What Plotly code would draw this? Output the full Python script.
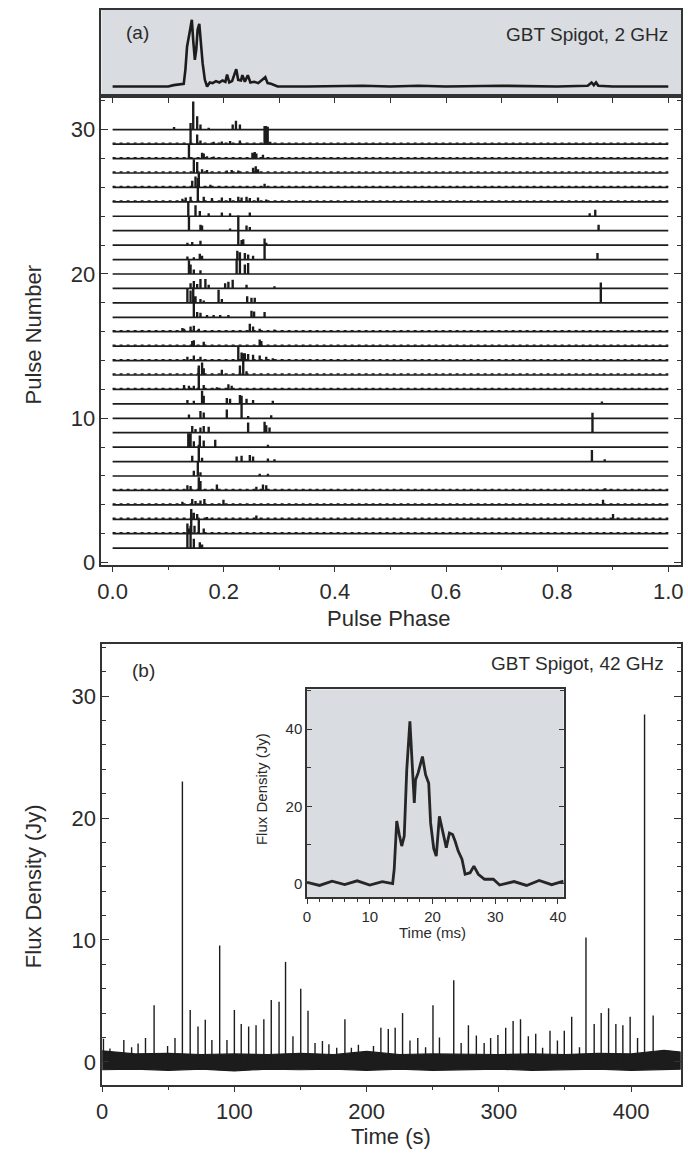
import plotly.graph_objects as go

# ---------------- data: panel (a) integrated profile ----------------
PROFILE_PHASE = [0.0, 0.10, 0.11, 0.125, 0.128, 0.131, 0.134, 0.1395, 0.1426, 0.145, 0.148,
                 0.1505, 0.153, 0.156, 0.159, 0.162, 0.166, 0.170, 0.175, 0.18, 0.186, 0.192,
                 0.198, 0.203, 0.206, 0.21, 0.215, 0.2225, 0.226, 0.231, 0.2335, 0.238,
                 0.2433, 0.248, 0.255, 0.262, 0.2748, 0.279, 0.285, 0.29, 0.297, 0.35, 0.45,
                 0.5, 0.55, 0.6, 0.7, 0.8, 0.855, 0.862, 0.866, 0.870, 0.874, 0.9, 1.0]
PROFILE_VALUE = [0.0, 0.0, 0.02, 0.03, 0.04, 0.25, 0.6, 0.85, 1.0, 0.7, 0.4,
                 0.55, 0.85, 0.94, 0.6, 0.35, 0.1, 0.0, 0.06, 0.05, 0.08, 0.06,
                 0.09, 0.07, 0.18, 0.06, 0.08, 0.26, 0.1, 0.09, 0.17, 0.07,
                 0.17, 0.06, 0.07, 0.05, 0.14, 0.05, 0.04, 0.02, 0.0, 0.0, 0.01,
                 0.0, 0.01, 0.0, 0.01, 0.0, 0.01, 0.06, 0.02, 0.06, 0.01, 0.0, 0.0]

# ---------------- data: panel (a) single pulses ----------------
PULSE_NUMBERS = [30, 29, 28, 27, 26, 25, 24, 23, 22, 21, 20, 19, 18, 17, 16,
                 15, 14, 13, 12, 11, 10, 9, 8, 7, 6, 5, 4, 3, 2, 1]
PULSE_SPIKE_PHASES = [
    [0.110, 0.1397, 0.1445, 0.1516, 0.1575, 0.1723, 0.2155, 0.2214, 0.2285, 0.4476],
    [0.1397, 0.1516, 0.1575, 0.1812, 0.196, 0.2108, 0.2285, 0.2729, 0.2755, 0.2785, 0.283],
    [0.1368, 0.1604, 0.1634, 0.1693, 0.1812, 0.251, 0.2552, 0.2581, 0.27],
    [0.1456, 0.1516, 0.1604, 0.1693, 0.2049, 0.2137, 0.2256, 0.2522, 0.257, 0.2611],
    [0.1427, 0.1486, 0.1545, 0.1753, 0.2729],
    [0.125, 0.131, 0.1397, 0.1528, 0.1634, 0.1782, 0.196, 0.2108, 0.2256, 0.2315, 0.2404, 0.2463, 0.2611, 0.2759],
    [0.1356, 0.1486, 0.1563, 0.1723, 0.196, 0.2108, 0.2463, 0.858, 0.868],
    [0.1368, 0.1575, 0.1604, 0.2108, 0.2404, 0.2463, 0.2937, 0.874],
    [0.134, 0.1427, 0.1575, 0.2256, 0.2315, 0.2345, 0.2759],
    [0.134, 0.1456, 0.1563, 0.1604, 0.2238, 0.2285, 0.2374, 0.2433, 0.2522, 0.2729, 0.872],
    [0.1368, 0.1397, 0.1456, 0.1575, 0.2226, 0.2285, 0.2374, 0.2433],
    [0.1397, 0.1456, 0.1516, 0.1575, 0.1664, 0.1723, 0.2019, 0.2078, 0.2155, 0.2404, 0.2907],
    [0.134, 0.1397, 0.1445, 0.1486, 0.1575, 0.1634, 0.1901, 0.196, 0.2416, 0.2493, 0.2552, 0.878],
    [0.1456, 0.1516, 0.1575, 0.1693, 0.1812, 0.193, 0.2078, 0.2493, 0.254, 0.2729],
    [0.125, 0.128, 0.1397, 0.1456, 0.1545, 0.2463, 0.2522, 0.2641, 0.2907],
    [0.1427, 0.1456, 0.1634, 0.2641, 0.267],
    [0.134, 0.1456, 0.1575, 0.2256, 0.2315, 0.2374, 0.2433, 0.2522, 0.2641, 0.2759, 0.2877],
    [0.1545, 0.1604, 0.1634, 0.196, 0.2285, 0.2345, 0.2404],
    [0.128, 0.1368, 0.1456, 0.1545, 0.1634, 0.1871, 0.2078, 0.2137],
    [0.134, 0.1456, 0.1604, 0.1634, 0.2049, 0.2108, 0.2285, 0.2404, 0.2522, 0.2877, 0.880],
    [0.1368, 0.1575, 0.1634, 0.2049, 0.2315, 0.2433, 0.2848],
    [0.1427, 0.1486, 0.1575, 0.1634, 0.1723, 0.2433, 0.2729, 0.2759, 0.2818, 0.863],
    [0.1356, 0.1397, 0.1456, 0.1563, 0.1634, 0.1841, 0.2789],
    [0.1427, 0.1545, 0.1604, 0.2226, 0.2315, 0.2463, 0.2522, 0.2789, 0.2907, 0.862, 0.885],
    [0.1456, 0.1528, 0.1575, 0.1901, 0.2226, 0.2641, 0.2789],
    [0.134, 0.1397, 0.1545, 0.1575, 0.1871, 0.2581, 0.27, 0.2759, 0.3055, 0.886],
    [0.125, 0.1427, 0.1486, 0.1575, 0.1646, 0.1989, 0.2759, 0.2996, 0.418, 0.882],
    [0.1409, 0.1456, 0.1516, 0.1693, 0.2581, 0.900],
    [0.1368, 0.1409, 0.1468, 0.1545, 0.1634],
    [0.134, 0.1397, 0.1456, 0.1563, 0.1604, 0.2729, 0.3766],
]
PULSE_SPIKE_HEIGHTS = [
    [0.12, 0.4, 1.9, 0.87, 0.3, 0.08, 0.3, 0.57, 0.3, 0.04],
    [1.0, 0.6, 0.2, 0.1, 0.12, 0.15, 0.2, 1.2, 1.2, 1.15, 0.1],
    [0.95, 0.35, 0.3, 0.1, 0.08, 0.35, 0.4, 0.3, 0.2],
    [0.9, 0.7, 0.2, 0.15, 0.12, 0.15, 0.12, 0.3, 0.4, 0.2],
    [0.4, 0.7, 0.95, 0.12, 0.2],
    [0.15, 0.25, 0.3, 1.6, 0.3, 0.2, 0.25, 0.2, 0.3, 0.25, 0.3, 0.2, 0.25, 0.1],
    [1.0, 0.7, 0.3, 0.15, 0.2, 0.15, 0.2, 0.15, 0.4],
    [0.95, 0.35, 0.3, 0.1, 0.3, 0.2, 0.05, 0.35],
    [0.1, 0.15, 0.25, 2.0, 0.3, 0.35, 0.1],
    [0.15, 0.1, 0.35, 0.2, 0.55, 0.45, 0.4, 0.3, 0.2, 1.4, 0.4],
    [0.9, 0.6, 0.25, 0.2, 1.0, 1.0, 0.6, 0.7],
    [0.3, 0.45, 0.25, 0.6, 0.6, 0.2, 0.3, 0.4, 0.55, 0.2, 0.1],
    [0.9, 0.8, 1.0, 0.4, 0.2, 0.1, 0.85, 0.2, 0.4, 0.3, 0.3, 1.35],
    [1.1, 0.3, 0.25, 0.1, 0.1, 0.1, 0.1, 0.4, 0.35, 0.3],
    [0.2, 0.15, 0.3, 0.35, 0.15, 0.5, 0.3, 0.15, 0.1],
    [0.3, 0.35, 0.25, 0.4, 0.3],
    [0.2, 0.3, 0.2, 0.9, 0.5, 0.45, 0.4, 0.35, 0.3, 0.2, 0.1],
    [0.6, 0.8, 0.4, 0.3, 0.6, 1.45, 0.2],
    [0.25, 0.2, 0.2, 1.4, 0.25, 0.1, 0.3, 0.2],
    [0.2, 0.15, 0.85, 0.5, 0.35, 0.3, 0.55, 0.3, 0.2, 0.15, 0.1],
    [0.2, 0.45, 0.35, 0.55, 1.5, 0.1, 0.15],
    [0.4, 0.2, 0.3, 0.4, 0.35, 0.65, 0.7, 0.45, 0.3, 1.33],
    [0.9, 0.9, 0.35, 0.75, 0.4, 0.45, 0.1],
    [0.35, 1.1, 0.2, 0.3, 0.35, 0.4, 0.3, 0.15, 0.1, 0.75, 0.1],
    [0.3, 0.95, 0.2, 0.05, 0.05, 0.1, 0.1],
    [0.3, 0.25, 0.85, 0.6, 0.35, 0.2, 0.35, 0.3, 0.05, 0.1],
    [0.15, 0.35, 0.2, 0.25, 0.35, 0.3, 0.05, 0.05, 0.05, 0.3],
    [0.4, 0.4, 0.3, 0.1, 0.2, 0.3],
    [0.3, 1.65, 0.5, 0.9, 0.3],
    [1.65, 1.5, 0.6, 0.35, 0.2, 0.05, 0.03],
]
# pulses whose off-pulse baseline shows visible noise
NOISY_PULSES = [29, 28, 27, 26, 25, 16, 15, 14, 13, 12, 5, 4, 3, 2]

# ---------------- data: panel (b) 42 GHz time series ----------------
SPIKE_TIME = [1.0, 5.9, 16.4, 22.3, 27.2, 32.8, 39.3, 49.5, 55.1, 60.7, 66.6, 72.5, 78.0,
              83.0, 88.9, 94.4, 100.0, 105.2, 110.8, 116.4, 122.3, 127.9, 133.8, 138.7,
              144.3, 150.2, 155.7, 161.0, 166.6, 171.5, 177.4, 183.6, 188.5, 193.8, 205.2,
              210.8, 216.4, 221.6, 227.2, 232.8, 238.7, 244.6, 250.2, 255.1, 265.9, 271.5,
              277.0, 283.0, 288.9, 293.8, 299.3, 305.2, 310.8, 316.4, 322.3, 327.9, 333.1,
              338.7, 344.3, 349.5, 355.1, 361.0, 365.9, 372.1, 377.4, 383.0, 388.5, 393.8,
              399.3, 404.9, 410.2, 416.7]
SPIKE_FLUX = [1.9, 1.1, 1.8, 1.2, 1.5, 1.95, 4.65, 1.3, 1.95, 23.0, 4.25, 2.9, 3.45,
              1.8, 9.55, 1.8, 4.25, 3.1, 2.9, 3.0, 3.5, 5.07, 4.93, 8.2,
              2.1, 6.0, 4.2, 1.55, 1.7, 1.45, 1.15, 3.5, 1.15, 1.4, 1.3,
              2.8, 2.7, 2.8, 4.0, 1.75, 1.95, 1.2, 4.65, 2.0, 6.7, 1.55,
              3.0, 2.15, 1.55, 1.95, 2.2, 2.8, 3.35, 3.5, 2.1, 2.3, 1.15,
              2.55, 1.75, 2.55, 3.7, 1.2, 10.2, 3.1, 4.0, 4.4, 3.1, 3.0,
              3.7, 1.95, 28.5, 3.8]
NOISE_TIME = [0, 25, 50, 75, 100, 125, 150, 175, 200, 225, 250, 275, 300, 325, 350,
              375, 400, 425, 437.5]
NOISE_HIGH = [0.9, 0.65, 0.7, 0.6, 0.65, 0.6, 0.7, 0.6, 0.85, 0.6, 0.65, 0.6, 0.6,
              0.65, 0.6, 0.7, 0.65, 0.95, 0.8]
NOISE_LOW = [-0.65, -0.6, -0.7, -0.6, -0.75, -0.6, -0.65, -0.6, -0.7, -0.6, -0.7,
             -0.65, -0.6, -0.7, -0.65, -0.6, -0.7, -0.65, -0.6]

# ---------------- data: inset, single 42 GHz pulse ----------------
INSET_TIME_MS = [0.0, 2.0, 4.0, 6.0, 8.0, 10.0, 12.0, 13.65, 13.9, 14.3, 14.7, 15.1, 15.5,
                 15.9, 16.4, 16.7, 17.1, 17.3, 17.7, 18.4, 18.9, 19.4, 19.7, 20.2, 20.6,
                 21.1, 21.6, 22.2, 22.7, 23.2, 23.6, 24.1, 24.7, 25.2, 26.0, 26.6, 27.3,
                 28.3, 29.7, 30.7, 33.0, 35.0, 37.0, 39.0, 40.9]
INSET_FLUX_JY = [0.3, -0.5, 0.6, -0.3, 0.7, -0.4, 0.5, 0.0, 3.7, 16.2, 12.7, 9.7, 12.3,
                 29.5, 42.0, 32.0, 20.9, 26.9, 28.6, 32.9, 28.2, 26.0, 15.7, 9.0, 7.1,
                 17.4, 13.9, 9.3, 13.1, 12.7, 11.0, 8.4, 6.3, 2.4, 2.8, 4.5, 2.4,
                 1.1, 1.1, -0.4, 0.5, -0.5, 0.8, -0.3, 0.6]

# ---------------- styling ----------------
W, H = 688, 1159
FONT = "Liberation Sans, Arial, sans-serif"
INK = "#1c1c1c"
TXT = "#2b2b2b"
GRAY = "#d9dce0"
SPIKE_W = 0.0012


def fx(p):
    return p / W


def fy(p):
    return 1 - p / H


fig = go.Figure()

# panel (a) top: integrated profile
fig.add_trace(go.Scatter(x=PROFILE_PHASE, y=PROFILE_VALUE, mode="lines",
                         line=dict(color=INK, width=2.6), xaxis="x2", yaxis="y2",
                         hoverinfo="skip", showlegend=False))

# panel (a) pulses
for n, phs, hts in zip(PULSE_NUMBERS, PULSE_SPIKE_PHASES, PULSE_SPIKE_HEIGHTS):
    xs, ys = [0.0], [n]
    for p, h in sorted(zip(phs, hts)):
        xs += [p, p, p + SPIKE_W, p + SPIKE_W]
        ys += [n, n + h, n + h, n]
    xs.append(1.0)
    ys.append(n)
    fig.add_trace(go.Scatter(x=xs, y=ys, mode="lines", line=dict(color=INK, width=1.7),
                             xaxis="x", yaxis="y", hoverinfo="skip", showlegend=False))

# baseline noise texture on the noisier pulses
for n in NOISY_PULSES:
    fig.add_trace(go.Scatter(x=[0.0, 1.0], y=[n + 0.07, n + 0.07], mode="lines",
                             line=dict(color=INK, width=1.3, dash="3px,4px"),
                             xaxis="x", yaxis="y", hoverinfo="skip", showlegend=False))

# panel (b) noise band
band_x = NOISE_TIME + NOISE_TIME[::-1]
band_y = NOISE_HIGH + NOISE_LOW[::-1]
fig.add_trace(go.Scatter(x=band_x, y=band_y, mode="lines", fill="toself",
                         fillcolor=INK, line=dict(color=INK, width=1.2),
                         xaxis="x3", yaxis="y3", hoverinfo="skip", showlegend=False))
sx, sy = [], []
for t, f in zip(SPIKE_TIME, SPIKE_FLUX):
    sx += [t, t, None]
    sy += [0, f, None]
fig.add_trace(go.Scatter(x=sx, y=sy, mode="lines", line=dict(color=INK, width=1.4),
                         xaxis="x3", yaxis="y3", hoverinfo="skip", showlegend=False))

# inset
fig.add_trace(go.Scatter(x=INSET_TIME_MS, y=INSET_FLUX_JY, mode="lines",
                         line=dict(color="#262626", width=2.8), xaxis="x4", yaxis="y4",
                         hoverinfo="skip", showlegend=False))

common = dict(showgrid=False, zeroline=False, showline=True, linecolor="#333333",
              linewidth=1.5, tickcolor="#333333",
              tickfont=dict(family=FONT, size=22, color=TXT))

xa_dom = [fx(96.7), fx(684)]
fig.update_layout(
    width=W, height=H, margin=dict(l=0, r=0, t=0, b=0),
    paper_bgcolor="white", plot_bgcolor="rgba(0,0,0,0)",
    font=dict(family=FONT, color=TXT),
    xaxis=dict(common, domain=xa_dom, range=[-0.0201, 1.023], anchor="y",
               tickvals=[0, 0.2, 0.4, 0.6, 0.8, 1.0],
               ticktext=["0.0", "0.2", "0.4", "0.6", "0.8", "1.0"],
               ticks="outside", ticklen=6, tickwidth=1.3, mirror=True,
               minor=dict(dtick=0.1, ticks="outside", ticklen=4, tickcolor="#333333")),
    yaxis=dict(common, domain=[fy(570), fy(97)], range=[-0.14, 32.33], anchor="x",
               tickvals=[0, 10, 20, 30], ticks="inside", ticklen=7, tickwidth=1.3,
               mirror="ticks",
               minor=dict(dtick=2, ticks="inside", ticklen=4, tickcolor="#333333")),
    xaxis2=dict(common, domain=xa_dom, range=[-0.0201, 1.023], anchor="y2",
                tickvals=[0, 0.1, 0.2, 0.3, 0.4, 0.5, 0.6, 0.7, 0.8, 0.9, 1.0],
                ticks="outside", ticklen=5, tickwidth=1.2, showticklabels=False,
                mirror=True),
    yaxis2=dict(common, domain=[fy(97), fy(10)], range=[-0.144, 1.149], anchor="x2",
                ticks="", showticklabels=False, mirror=True),
    xaxis3=dict(common, domain=[fx(97.4), fx(683.6)], range=[0, 437.5], anchor="y3",
                tickvals=[0, 100, 200, 300, 400], ticks="outside", ticklen=6,
                tickwidth=1.3, mirror=True,
                minor=dict(dtick=50, ticks="outside", ticklen=4, tickcolor="#333333")),
    yaxis3=dict(common, domain=[fy(1095), fy(650)], range=[-1.87, 34.3], anchor="x3",
                tickvals=[0, 10, 20, 30], ticks="inside", ticklen=7, tickwidth=1.3,
                mirror="ticks",
                minor=dict(dtick=2, ticks="inside", ticklen=4, tickcolor="#333333")),
    xaxis4=dict(common, domain=[fx(305), fx(565)], range=[0, 40.9], anchor="y4",
                tickvals=[0, 10, 20, 30, 40], ticks="outside", ticklen=5, tickwidth=1.2,
                mirror=True, tickfont=dict(family=FONT, size=15, color=TXT),
                minor=dict(dtick=2, ticks="outside", ticklen=3, tickcolor="#333333")),
    yaxis4=dict(common, domain=[fy(906), fy(696)], range=[-3.6, 50.3], anchor="x4",
                tickvals=[0, 20, 40], ticks="inside", ticklen=5, tickwidth=1.2,
                mirror="ticks", tickfont=dict(family=FONT, size=15, color=TXT),
                minor=dict(dtick=10, ticks="inside", ticklen=4, tickcolor="#333333")),
    shapes=[
        dict(type="rect", xref="x2 domain", yref="y2 domain", x0=0, x1=1, y0=0, y1=1,
             fillcolor=GRAY, line=dict(width=0), layer="below"),
        dict(type="rect", xref="x4 domain", yref="y4 domain", x0=0, x1=1, y0=0, y1=1,
             fillcolor=GRAY, line=dict(width=0), layer="below"),
    ],
)


def ann(text, x, y, size, angle=0, xanchor="center"):
    fig.add_annotation(text=text, x=fx(x), y=fy(y), xref="paper", yref="paper",
                       showarrow=False, textangle=angle, xanchor=xanchor, yanchor="middle",
                       font=dict(family=FONT, size=size, color=TXT))


ann("Pulse Number", 28, 338, 22, angle=-90)
ann("Pulse Phase", 388, 624, 22)
ann("Flux Density (Jy)", 28, 895, 22, angle=-90)
ann("Time (s)", 390, 1147, 22)
ann("Flux Density (Jy)", 259, 797, 15, angle=-90)
ann("Time (ms)", 432, 941, 15)
ann("(a)", 133, 33, 19)
ann("GBT Spigot, 2 GHz", 673, 35, 19, xanchor="right")
ann("(b)", 139, 677, 19)
ann("GBT Spigot, 42 GHz", 669, 670, 19, xanchor="right")

fig.write_html("out.html", config={"displayModeBar": False},
               post_script="document.body.style.margin='0';"
                           "document.body.style.overflow='hidden';")
